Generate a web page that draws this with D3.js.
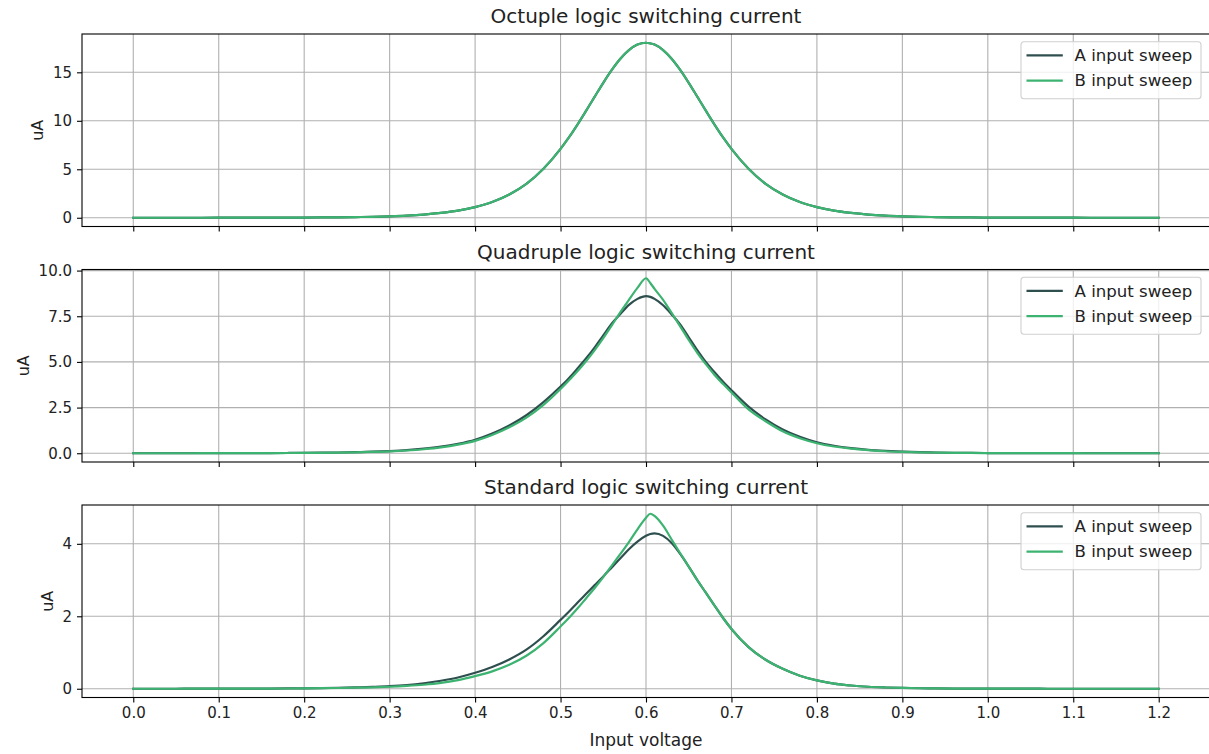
<!DOCTYPE html>
<html>
<head>
<meta charset="utf-8">
<script src="https://cdn.jsdelivr.net/npm/d3@7"></script>
<style>
  html, body { margin: 0; padding: 0; background: #fff; }
  svg { display: block; font-family: "DejaVu Sans", sans-serif; }
</style>
</head>
<body>
<svg id="chart" width="1209" height="754"></svg>
<script>
// Input voltage sweep points (V); finer spacing around the switching threshold
const voltage = [
  0.00, 0.02, 0.04, 0.06, 0.08, 0.10, 0.12, 0.14, 0.16, 0.18,
  0.20, 0.22, 0.24, 0.26, 0.28, 0.30, 0.32, 0.34, 0.36, 0.38,
  0.40, 0.42, 0.44, 0.46, 0.48,
  0.50, 0.51, 0.52, 0.53, 0.54, 0.55, 0.56, 0.57, 0.58, 0.59,
  0.60, 0.605, 0.61, 0.62, 0.63, 0.64, 0.65, 0.66, 0.67, 0.68, 0.69, 0.70,
  0.72, 0.74, 0.76, 0.78, 0.80, 0.82, 0.84, 0.86, 0.88, 0.90,
  0.92, 0.94, 0.96, 0.98, 1.00, 1.02, 1.04, 1.06, 1.08, 1.10,
  1.12, 1.14, 1.16, 1.18, 1.20
];

// Octuple logic supply current (uA)
const octupleA = [
  0, 0, 0.001, 0.001, 0.002, 0.003, 0.004, 0.006, 0.009, 0.013,
  0.019, 0.029, 0.044, 0.066, 0.10, 0.15, 0.22, 0.33, 0.50, 0.74,
  1.10, 1.62, 2.40, 3.50, 5.06,
  7.11, 8.31, 9.64, 11.05, 12.49, 13.92, 15.25, 16.40, 17.29, 17.86,
  18.05, 17.98, 17.86, 17.29, 16.40, 15.25, 13.92, 12.49, 11.05, 9.64, 8.31, 7.11,
  5.06, 3.50, 2.40, 1.62, 1.10, 0.74, 0.50, 0.33, 0.22, 0.15,
  0.10, 0.066, 0.044, 0.029, 0.019, 0.013, 0.009, 0.006, 0.004, 0.003,
  0.002, 0.001, 0.001, 0, 0
];
const octupleB = [
  0, 0, 0.001, 0.001, 0.002, 0.003, 0.004, 0.006, 0.009, 0.013,
  0.019, 0.029, 0.044, 0.066, 0.10, 0.15, 0.22, 0.33, 0.50, 0.74,
  1.10, 1.62, 2.40, 3.50, 5.06,
  7.11, 8.31, 9.64, 11.05, 12.49, 13.92, 15.25, 16.40, 17.29, 17.86,
  18.05, 17.98, 17.86, 17.29, 16.40, 15.25, 13.92, 12.49, 11.05, 9.64, 8.31, 7.11,
  5.06, 3.50, 2.40, 1.62, 1.10, 0.74, 0.50, 0.33, 0.22, 0.15,
  0.10, 0.066, 0.044, 0.029, 0.019, 0.013, 0.009, 0.006, 0.004, 0.003,
  0.002, 0.001, 0.001, 0, 0
];

// Quadruple logic supply current (uA)
const quadrupleA = [
  0, 0, 0.001, 0.001, 0.002, 0.003, 0.005, 0.007, 0.010, 0.015,
  0.021, 0.030, 0.042, 0.060, 0.085, 0.12, 0.17, 0.25, 0.36, 0.52,
  0.74, 1.08, 1.52, 2.08, 2.80,
  3.65, 4.12, 4.65, 5.20, 5.80, 6.45, 7.10, 7.62, 8.12, 8.45,
  8.60, 8.56, 8.45, 8.10, 7.60, 7.05, 6.35, 5.65, 5.00, 4.45, 3.93, 3.45,
  2.55, 1.85, 1.30, 0.90, 0.60, 0.41, 0.28, 0.19, 0.13, 0.085,
  0.057, 0.040, 0.027, 0.018, 0.012, 0.009, 0.006, 0.004, 0.003, 0.002,
  0.001, 0.001, 0, 0, 0
];
const quadrupleB = [
  0, 0, 0.001, 0.001, 0.002, 0.003, 0.004, 0.006, 0.009, 0.013,
  0.018, 0.025, 0.035, 0.050, 0.070, 0.10, 0.15, 0.22, 0.32, 0.47,
  0.68, 1.00, 1.42, 1.95, 2.65,
  3.52, 4.00, 4.50, 5.05, 5.65, 6.30, 7.00, 7.72, 8.40, 9.05,
  9.58, 9.32, 9.00, 8.40, 7.68, 6.95, 6.20, 5.50, 4.88, 4.30, 3.80, 3.33,
  2.40, 1.75, 1.20, 0.82, 0.55, 0.37, 0.25, 0.17, 0.11, 0.075,
  0.050, 0.035, 0.024, 0.016, 0.011, 0.008, 0.005, 0.004, 0.003, 0.002,
  0.001, 0.001, 0, 0, 0
];

// Standard logic supply current (uA)
const standardA = [
  0, 0, 0, 0.001, 0.001, 0.002, 0.003, 0.004, 0.006, 0.009,
  0.013, 0.019, 0.027, 0.038, 0.052, 0.07, 0.10, 0.15, 0.22, 0.31,
  0.44, 0.60, 0.81, 1.08, 1.45,
  1.90, 2.13, 2.38, 2.62, 2.86, 3.10, 3.35, 3.60, 3.85, 4.06,
  4.22, 4.27, 4.29, 4.22, 4.02, 3.72, 3.37, 3.00, 2.65, 2.30, 1.96, 1.65,
  1.15, 0.80, 0.55, 0.36, 0.23, 0.14, 0.09, 0.055, 0.035, 0.022,
  0.014, 0.009, 0.006, 0.004, 0.003, 0.002, 0.001, 0.001, 0, 0,
  0, 0, 0, 0, 0
];
const standardB = [
  0, 0, 0, 0.001, 0.001, 0.002, 0.002, 0.003, 0.005, 0.007,
  0.010, 0.015, 0.021, 0.029, 0.040, 0.055, 0.078, 0.11, 0.16, 0.24,
  0.35, 0.48, 0.66, 0.91, 1.26,
  1.72, 1.96, 2.22, 2.50, 2.78, 3.08, 3.40, 3.72, 4.05, 4.40,
  4.72, 4.83, 4.77, 4.50, 4.12, 3.74, 3.37, 3.00, 2.65, 2.30, 1.96, 1.65,
  1.15, 0.80, 0.55, 0.36, 0.23, 0.14, 0.09, 0.055, 0.035, 0.022,
  0.014, 0.009, 0.006, 0.004, 0.003, 0.002, 0.001, 0.001, 0, 0,
  0, 0, 0, 0, 0
];

const panelTitles = [
  "Octuple logic switching current",
  "Quadruple logic switching current",
  "Standard logic switching current"
];
const seriesNames = ["A input sweep", "B input sweep"];
const seriesColors = ["#2f4f4f", "#3cb371"];
const xTickValues = [0.0, 0.1, 0.2, 0.3, 0.4, 0.5, 0.6, 0.7, 0.8, 0.9, 1.0, 1.1, 1.2];
const octupleTicks = [0, 5, 10, 15];
const quadrupleTicks = [0.0, 2.5, 5.0, 7.5, 10.0];
const standardTicks = [0, 2, 4];
const yLabel = "uA";
const xLabel = "Input voltage";

// ---- layout ----
const W = 1209, H = 754;
const axLeft = 82, axRight = 1210;
const panelTops = [34, 269.5, 505];
const panelH = 192.5;
const tickFont = 15;
const labelFont = 16.6;
const titleFont = 20;
const textColor = "#222";
const gridColor = "#b0b0b0";

const svg = d3.select("#chart");
svg.append("rect").attr("width", W).attr("height", H).attr("fill", "#fff");

// matplotlib-like 5% data margins
function padded(ext) {
  const span = ext[1] - ext[0];
  return [ext[0] - 0.05 * span, ext[1] + 0.05 * span];
}

const x = d3.scaleLinear().domain(padded(d3.extent(voltage))).range([axLeft, axRight]);

const panels = [
  { title: panelTitles[0], series: [octupleA, octupleB], ticks: octupleTicks, fmt: d3.format("d") },
  { title: panelTitles[1], series: [quadrupleA, quadrupleB], ticks: quadrupleTicks, fmt: d3.format(".1f") },
  { title: panelTitles[2], series: [standardA, standardB], ticks: standardTicks, fmt: d3.format("d") }
];

panels.forEach((p, i) => {
  const top = panelTops[i], bottom = top + panelH;
  const allVals = p.series.flat();
  const y = d3.scaleLinear().domain(padded(d3.extent(allVals))).range([bottom, top]);
  const g = svg.append("g");

  // grid
  g.append("g").selectAll("line").data(xTickValues).join("line")
    .attr("x1", d => x(d)).attr("x2", d => x(d))
    .attr("y1", top).attr("y2", bottom)
    .attr("stroke", gridColor).attr("stroke-width", 1.1);
  g.append("g").selectAll("line").data(p.ticks).join("line")
    .attr("x1", axLeft).attr("x2", axRight)
    .attr("y1", d => y(d)).attr("y2", d => y(d))
    .attr("stroke", gridColor).attr("stroke-width", 1.1);

  // series lines
  const clipId = "clip" + i;
  svg.append("clipPath").attr("id", clipId).append("rect")
    .attr("x", axLeft).attr("y", top).attr("width", axRight - axLeft).attr("height", panelH);
  p.series.forEach((vals, s) => {
    const line = d3.line()
      .x((d, k) => x(voltage[k]))
      .y(d => y(d))
      .curve(d3.curveMonotoneX);
    g.append("path")
      .datum(vals)
      .attr("d", line)
      .attr("fill", "none")
      .attr("stroke", seriesColors[s])
      .attr("stroke-width", 2.2)
      .attr("stroke-linejoin", "round")
      .attr("stroke-linecap", "square")
      .attr("clip-path", `url(#${clipId})`);
  });

  // spines
  g.append("rect")
    .attr("x", axLeft).attr("y", top)
    .attr("width", axRight - axLeft).attr("height", panelH)
    .attr("fill", "none").attr("stroke", "#000").attr("stroke-width", 1.1);

  // y axis
  const yAxis = g.append("g").attr("transform", `translate(${axLeft},0)`)
    .call(d3.axisLeft(y).tickValues(p.ticks).tickFormat(p.fmt).tickSize(5).tickPadding(5));
  yAxis.select(".domain").remove();
  yAxis.selectAll(".tick line").attr("stroke", "#000").attr("stroke-width", 1.1);
  yAxis.selectAll(".tick text").attr("fill", textColor)
    .style("font-size", tickFont + "px").style("font-family", "DejaVu Sans");

  // x axis (labels only on the bottom panel)
  const xAxis = g.append("g").attr("transform", `translate(0,${bottom})`)
    .call(d3.axisBottom(x).tickValues(xTickValues)
      .tickFormat(i === panels.length - 1 ? d3.format(".1f") : () => "")
      .tickSize(5).tickPadding(5));
  xAxis.select(".domain").remove();
  xAxis.selectAll(".tick line").attr("stroke", "#000").attr("stroke-width", 1.1);
  xAxis.selectAll(".tick text").attr("fill", textColor)
    .style("font-size", tickFont + "px").style("font-family", "DejaVu Sans");

  // y label placed left of the widest tick label
  let minX = Infinity;
  yAxis.selectAll(".tick text").each(function () {
    const bb = this.getBBox();
    const m = this.getCTM();
    minX = Math.min(minX, bb.x + m.e);
  });
  g.append("text")
    .attr("transform", `translate(${minX - 9.5},${(top + bottom) / 2}) rotate(-90)`)
    .attr("text-anchor", "middle")
    .attr("fill", textColor)
    .style("font-size", "16px")
    .text(yLabel);

  // title
  g.append("text")
    .attr("x", (axLeft + axRight) / 2)
    .attr("y", top - 11)
    .attr("text-anchor", "middle")
    .attr("fill", textColor)
    .style("font-size", titleFont + "px")
    .text(p.title);

  // legend
  const lgW = 180, lgH = 57;
  const lgX = axRight - 9 - lgW, lgY = top + 7.7;
  const lg = g.append("g").attr("transform", `translate(${lgX},${lgY})`);
  lg.append("rect")
    .attr("width", lgW).attr("height", lgH).attr("rx", 3)
    .attr("fill", "#fff").attr("fill-opacity", 0.8)
    .attr("stroke", "#d0d0d0").attr("stroke-width", 1.1);
  seriesNames.forEach((name, s) => {
    const cy = 13.6 + s * 25.4;
    lg.append("line")
      .attr("x1", 5.5).attr("x2", 41.8).attr("y1", cy).attr("y2", cy)
      .attr("stroke", seriesColors[s]).attr("stroke-width", 2.2);
    lg.append("text")
      .attr("x", 53.5).attr("y", cy + 5.8)
      .attr("fill", textColor)
      .style("font-size", labelFont + "px")
      .text(name);
  });
});

// x axis label
svg.append("text")
  .attr("x", (axLeft + axRight) / 2)
  .attr("y", 746)
  .attr("text-anchor", "middle")
  .attr("fill", textColor)
  .style("font-size", "17px")
  .text(xLabel);
</script>
</body>
</html>
